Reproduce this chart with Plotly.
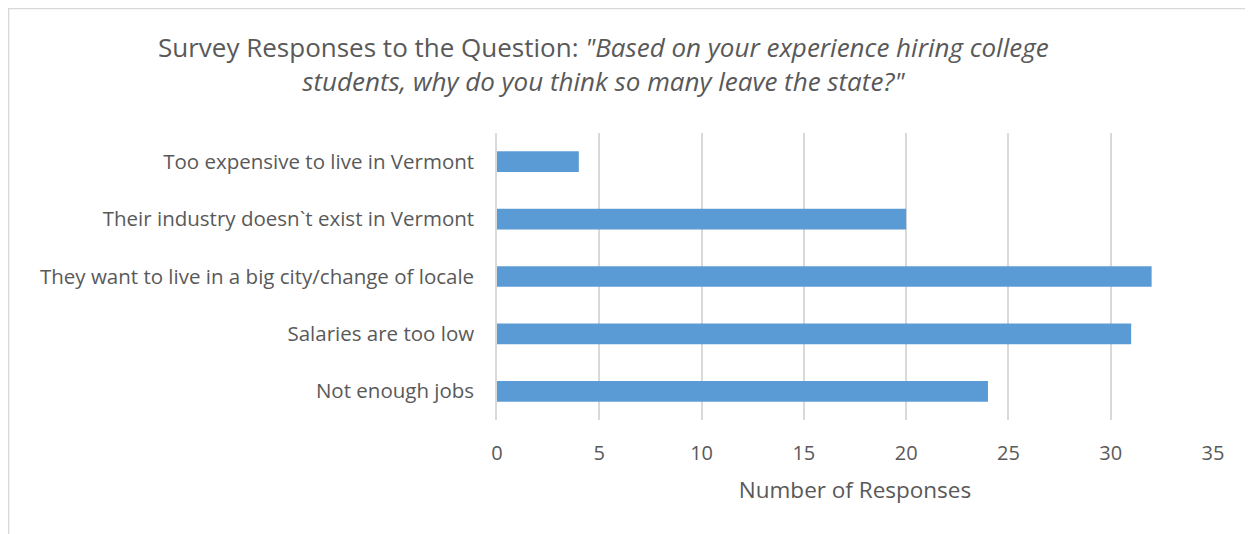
import plotly.graph_objects as go

categories = [
    "Not enough jobs",
    "Salaries are too low",
    "They want to live in a big city/change of locale",
    "Their industry doesn`t exist in Vermont",
    "Too expensive to live in Vermont",
]
responses = [24, 31, 32, 20, 4]
x_ticks = [0, 5, 10, 15, 20, 25, 30, 35]

# page is rendered with an 8px body margin; work in page pixels and shift
OFF = 8
W, H = 1253 - OFF, 534 - OFF
L = 497 - OFF
T = 133 - OFF
R = 1253 - 1213
B = 534 - 420
pw, ph = W - L - R, H - T - B

def px_x(px):
    return (px - OFF - L) / pw

def px_y(py):
    return (H - B - (py - OFF)) / ph

font_family = "Open Sans, DejaVu Sans, sans-serif"
text_color = "#595959"
grid_color = "#D9D9D9"

fig = go.Figure(
    go.Bar(
        y=categories,
        x=responses,
        orientation="h",
        marker=dict(color="#5B9BD5", line=dict(width=0)),
        width=0.36,
    )
)

fig.update_layout(
    width=W,
    height=H,
    margin=dict(l=L, r=R, t=T, b=B, pad=0),
    paper_bgcolor="white",
    plot_bgcolor="white",
    showlegend=False,
    font=dict(family=font_family, color=text_color, size=20),
    xaxis=dict(
        range=[0, 35],
        tickvals=x_ticks,
        showgrid=True,
        gridcolor=grid_color,
        gridwidth=1.5,
        zeroline=False,
        showline=False,
        ticks="",
        ticklabelstandoff=19,
        tickfont=dict(size=20, color=text_color),
        title=dict(text="Number of Responses", font=dict(size=22.5, color=text_color), standoff=17),
    ),
    yaxis=dict(
        categoryorder="array",
        categoryarray=categories,
        range=[-0.5, 4.5],
        showgrid=False,
        zeroline=False,
        showline=True,
        linecolor=grid_color,
        linewidth=1.5,
        ticks="",
        ticklabelstandoff=17,
        tickfont=dict(size=20.5, color=text_color),
    ),
)

fig.add_annotation(
    xref="paper", yref="paper",
    x=px_x(603), y=px_y(64),
    xanchor="center", yanchor="middle",
    showarrow=False,
    align="center",
    text='Survey Responses to the Question: <i>"Based on your experience hiring college</i><br><i>students, why do you think so many leave the state?"</i>',
    font=dict(size=26, color=text_color, family=font_family),
)

fig.add_shape(
    type="rect", xref="paper", yref="paper",
    x0=px_x(8.6), y0=px_y(560), x1=px_x(1280), y1=px_y(8.6),
    line=dict(color=grid_color, width=1.5),
    fillcolor="rgba(0,0,0,0)",
    layer="below",
)

fig.write_html("out.html")
